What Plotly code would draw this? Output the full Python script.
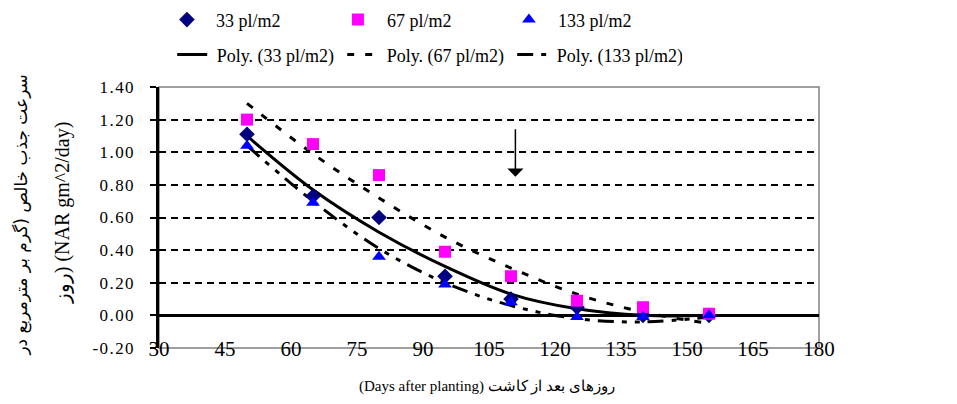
import plotly.graph_objects as go

days = [50, 65, 80, 95, 110, 125, 140, 155]
nar_33 = [1.11, 0.73, 0.60, 0.24, 0.10, 0.05, 0.00, 0.00]
nar_67 = [1.20, 1.05, 0.86, 0.39, 0.24, 0.09, 0.05, 0.01]
nar_133 = [1.04, 0.69, 0.36, 0.19, 0.08, -0.01, -0.01, 0.00]

# polynomial trend lines at the same days
trend_33 = [1.10, 0.77, 0.51, 0.30, 0.13, 0.04, 0.00, 0.00]
trend_67 = [1.30, 0.99, 0.72, 0.48, 0.29, 0.13, 0.02, -0.05]
trend_133 = [1.04, 0.70, 0.41, 0.20, 0.06, -0.02, -0.04, -0.01]

y_tick_values = [-0.2, 0.0, 0.2, 0.4, 0.6, 0.8, 1.0, 1.2, 1.4]
y_tick_labels = ["-0.20", "0.00", "0.20", "0.40", "0.60", "0.80", "1.00", "1.20", "1.40"]
grid_values = [0.2, 0.4, 0.6, 0.8, 1.0, 1.2]

names = ["33 pl/m2", "67 pl/m2", "133 pl/m2"]
colors = ["#000080", "#FF00FF", "#0000FF"]
symbols = ["diamond", "square", "triangle-up"]
dashes = ["solid", "7px,11px", "16px,8px,5px,8px,5px,8px"]
series = [nar_33, nar_67, nar_133]
trends = [trend_33, trend_67, trend_133]

FONT = "serif"
fig = go.Figure()

for name, ys, dash in zip(names, trends, dashes):
    fig.add_trace(go.Scatter(x=days, y=ys, mode="lines",
                             name="\u2005Poly. (" + name + ")",
                             line=dict(color="black", width=3, dash=dash, shape="spline"),
                             legend="legend2"))
for name, ys, c, s in zip(names, series, colors, symbols):
    fig.add_trace(go.Scatter(x=days, y=ys, mode="markers", name="\u2002" + name,
                             marker=dict(color=c, symbol=s, size=12, line=dict(width=0)),
                             legend="legend"))

fig.add_trace(go.Scatter(x=[None], y=[None], yaxis="y2", showlegend=False))

fig.update_layout(
    width=949, height=396,
    margin=dict(l=151, r=138, t=79, b=56, autoexpand=False),
    paper_bgcolor="white", plot_bgcolor="white",
    font=dict(family=FONT, size=17, color="black"),
    xaxis=dict(range=[30, 180], dtick=15, tick0=30, showgrid=False, zeroline=False,
               showline=False, ticks="", ticklabelstandoff=-14,
               tickfont=dict(family=FONT, size=21)),
    xaxis2=dict(range=[30, 180], dtick=15, tick0=30, overlaying="x", anchor="free",
                position=0.125, showticklabels=False, ticks="outside", ticklen=6,
                tickwidth=3, tickcolor="black", showgrid=False, showline=False,
                zeroline=False),
    yaxis=dict(range=[-0.2, 1.4], tickvals=y_tick_values,
               ticktext=["\u200a".join(t) for t in y_tick_labels],
               showgrid=False, zeroline=True, zerolinecolor="black", zerolinewidth=3,
               showline=True, linecolor="black", linewidth=3, ticks="outside",
               ticklen=6, tickwidth=2, tickcolor="black", ticklabelstandoff=13,
               tickfont=dict(family=FONT, size=17)),
    yaxis2=dict(range=[-0.2, 1.4], overlaying="y", side="left",
                tickvals=grid_values, showticklabels=False,
                showgrid=True, gridcolor="black", gridwidth=1.5, griddash="7px,5px",
                zeroline=False, showline=False, ticks=""),
    legend=dict(orientation="h", x=0.012, xanchor="left", y=1.257, yanchor="middle",
                entrywidth=126, entrywidthmode="pixels",
                font=dict(family=FONT, size=18), bgcolor="rgba(0,0,0,0)",
                traceorder="normal"),
    legend2=dict(orientation="h", x=0.02, xanchor="left", y=1.123, yanchor="middle",
                 entrywidth=125, entrywidthmode="pixels",
                 font=dict(family=FONT, size=18), bgcolor="rgba(0,0,0,0)",
                 traceorder="normal"),
    shapes=[dict(type="rect", xref="x domain", yref="y domain", x0=0, x1=1, y0=0, y1=1,
                 line=dict(color="#808080", width=1.5), layer="below")],
    annotations=[
        dict(x=111, y=0.85, ax=111, ay=1.15, xref="x", yref="y", axref="x", ayref="y",
             showarrow=True, arrowhead=1, arrowsize=1.8, arrowwidth=1.5,
             arrowcolor="black", text=""),
        dict(x=-0.208, y=0.51, xref="paper", yref="paper", textangle=-90,
             xanchor="center", yanchor="middle",
             text="سرعت جذب خالص (گرم بر مترمربع در", showarrow=False,
             font=dict(family="DejaVu Sans", size=17)),
        dict(x=-0.147, y=0.52, xref="paper", yref="paper", textangle=-90,
             xanchor="center", yanchor="middle",
             text="روز) (NAR gm^2/day)", showarrow=False,
             font=dict(family=FONT, size=20)),
        dict(x=0.497, y=-0.149, xref="paper", yref="paper", xanchor="center",
             yanchor="middle",
             text="(Days after planting) روزهای بعد از کاشت", showarrow=False,
             font=dict(family=FONT, size=15)),
    ],
)

fig.write_html("out.html")
